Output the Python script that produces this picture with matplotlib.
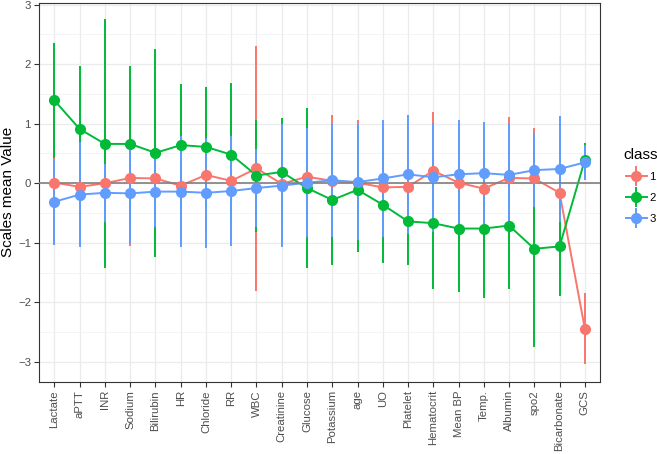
import matplotlib.pyplot as plt
import numpy as np
from matplotlib.lines import Line2D
from matplotlib.legend_handler import HandlerTuple

plt.rcParams['font.family'] = ['Liberation Sans', 'DejaVu Sans']

variables = ["Lactate", "aPTT", "INR", "Sodium", "Bilirubin", "HR", "Chloride", "RR",
             "WBC", "Creatinine", "Glucose", "Potassium", "age", "UO", "Platelet",
             "Hematocrit", "Mean BP", "Temp.", "Albumin", "spo2", "Bicarbonate", "GCS"]

# class 1
mean_1 = [0.01, -0.06, 0.00, 0.09, 0.08, -0.04, 0.14, 0.04, 0.25, -0.01, 0.11, 0.04,
          0.01, -0.07, -0.06, 0.21, 0.01, -0.09, 0.09, 0.08, -0.16, -2.44]
sd_1 = [1.05, 1.00, 1.00, 1.14, 1.00, 1.00, 1.00, 1.00, 2.06, 1.00, 1.00, 1.10,
        1.06, 1.00, 1.00, 0.98, 1.00, 1.00, 1.02, 0.85, 1.00, 0.59]

# class 2
mean_2 = [1.39, 0.91, 0.66, 0.66, 0.51, 0.64, 0.61, 0.48, 0.13, 0.19, -0.08, -0.28,
          -0.11, -0.36, -0.64, -0.67, -0.76, -0.76, -0.71, -1.10, -1.06, 0.39]
sd_2 = [0.97, 1.05, 2.09, 1.31, 1.75, 1.03, 1.00, 1.20, 0.94, 0.91, 1.34, 1.10,
        1.05, 0.98, 0.74, 1.10, 1.07, 1.17, 1.07, 1.65, 0.83, 0.28]

# class 3
mean_3 = [-0.31, -0.19, -0.16, -0.17, -0.14, -0.14, -0.16, -0.13, -0.08, -0.04, 0.01, 0.05,
          0.02, 0.08, 0.15, 0.10, 0.15, 0.17, 0.14, 0.22, 0.24, 0.35]
sd_3 = [0.72, 0.88, 0.49, 0.85, 0.60, 0.93, 0.92, 0.92, 0.65, 1.03, 0.91, 0.95,
        0.97, 0.99, 1.00, 0.91, 0.92, 0.85, 0.87, 0.62, 0.89, 0.29]

classes = ["1", "2", "3"]
colors = ["#F8766D", "#00BA38", "#619CFF"]

fig = plt.figure(figsize=(6.57, 4.54), dpi=100)
ax = fig.add_axes([0.0598, 0.1593, 0.8534, 0.8347])

x = np.arange(len(variables))
means = [np.array(mean_1), np.array(mean_2), np.array(mean_3)]
sds = [np.array(sd_1), np.array(sd_2), np.array(sd_3)]

for m, c in zip(means, colors):
    ax.plot(x, m, color=c, lw=1.4, zorder=2)
for m, s, c in zip(means, sds, colors):
    ax.vlines(x, m - s, m + s, color=c, lw=1.4, zorder=3)
ax.axhline(0, color='#808080', lw=1.2, zorder=3.5)
for m, c in zip(means, colors):
    ax.plot(x, m, 'o', color=c, ms=7, ls='none', zorder=4)

ax.set_xlim(-0.6, len(variables) - 0.4)
ax.set_ylim(-3.33, 3.03)
ax.set_xticks(x)
ax.set_xticklabels(variables, rotation=90)
ax.set_yticks(np.arange(-3, 4))
ax.set_yticks(np.arange(-2.5, 3, 1), minor=True)
ax.tick_params(axis='both', which='major', direction='out', length=3.5, width=0.8,
               color='#333333', labelcolor='#4D4D4D', labelsize=8.2, pad=2.5)
ax.tick_params(axis='y', which='minor', length=0)
ax.grid(True, which='major', color='#EBEBEB', lw=0.9, zorder=0)
ax.grid(True, which='minor', axis='y', color='#F2F2F2', lw=0.6, zorder=0)
ax.set_axisbelow(True)
for sp in ax.spines.values():
    sp.set_color('#333333')
    sp.set_linewidth(0.8)
ax.set_ylabel('Scales mean Value', fontsize=11)
ax.yaxis.set_label_coords(-0.043, 0.5)

handles = []
for c in colors:
    h1 = Line2D([], [], color=c, lw=1.4, marker='o', ms=7)
    h2 = Line2D([], [], color=c, marker='|', ms=15, mew=1.4, ls='none')
    handles.append((h1, h2))
fig.text(623 / 657, 1 - 155 / 454, 'class', fontsize=11, ha='left', va='center')
leg = fig.legend(handles, classes, loc='upper left', bbox_to_anchor=(626 / 657, 0.622),
                 frameon=False, fontsize=8.2,
                 handler_map={tuple: HandlerTuple(ndivide=1)},
                 handlelength=1.8, handletextpad=0.25, labelspacing=1.0, borderpad=0,
                 borderaxespad=0)

fig.savefig('out.png', dpi=100)
